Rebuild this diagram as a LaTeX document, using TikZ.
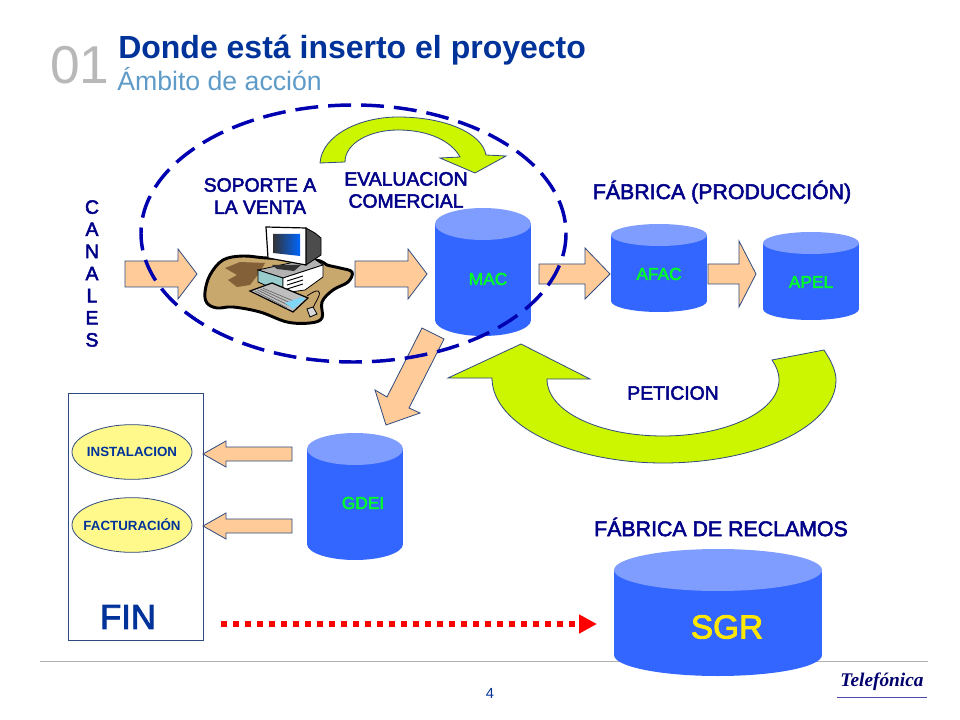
\documentclass[tikz,border=0pt]{standalone}
\usepackage{fontspec}
\setmainfont{Liberation Sans}
\newfontfamily\medfont[FakeBold=2.6]{Liberation Sans}
\newfontfamily\logofont{Liberation Serif}
\usetikzlibrary{shapes.geometric,arrows.meta}
\definecolor{azulfuerte}{HTML}{000088}
\definecolor{azulzona}{HTML}{0000B0}
\definecolor{azultitulo}{HTML}{003399}
\definecolor{azulsub}{HTML}{5F9BC8}
\definecolor{azulcil}{HTML}{3366FF}
\definecolor{azultapa}{HTML}{7F9CFF}
\definecolor{naranja}{HTML}{FFCC99}
\definecolor{verdelima}{HTML}{CCF500}
\definecolor{borde}{HTML}{2F4A7F}
\definecolor{mesa}{HTML}{C9A86E}

\begin{document}
\begin{tikzpicture}
      [x=.75pt,y=-.75pt
    % colors of the faces
      ,cilb/.style={fill=azulcil}
      ,cilt/.style={fill=azultapa}
      ,flecha/.style={draw=borde,fill=naranja,line width=.6pt}
      ,curva/.style={draw=borde,fill=verdelima,line width=.6pt}
      ,rotulo/.style={font=\medfont\fontsize{14.5}{16.6}\selectfont,text=azulfuerte,align=center,inner sep=0pt}
      ,rotgrande/.style={rotulo,font=\medfont\fontsize{16}{18}\selectfont}
      ,nomcil/.style={font=\medfont\fontsize{13}{14}\selectfont,text=green!85!cyan,inner sep=0pt}
      ,proceso/.style={ellipse,draw=borde,fill=yellow!45,line width=.6pt,minimum width=90pt,minimum height=41pt,inner sep=0pt,text=azultitulo,font=\bfseries\fontsize{10}{11}\selectfont}
      ]
    \useasboundingbox (0,0) rectangle (960,720);

    % header
    \node[anchor=base west,inner sep=0pt,text=black!28,font=\fontsize{40}{40}\selectfont] (num) at (50,84) {01};
    \node[anchor=base west,inner sep=0pt,text=azultitulo,font=\bfseries\fontsize{24}{26}\selectfont] (titulo) at (118,59) {Donde está inserto el proyecto};
    \node[anchor=base west,inner sep=0pt,text=azulsub,font=\fontsize{20}{22}\selectfont] (subtitulo) at (117,91) {Ámbito de acción};

    % footer
    \draw[black!30,line width=.6pt] (40,661) -- (928,661);
    \node[text=azultitulo,inner sep=0pt,font=\fontsize{11}{12}\selectfont] (pagina) at (490,693) {4};
    \node[text=azulfuerte!80!black,inner sep=0pt,font=\logofont\bfseries\itshape\fontsize{14.5}{16}\selectfont] (logo) at (882,682) {Telefónica};
    \draw[azulfuerte!70,line width=.7pt] (837,697) -- (927,697);

    % arrows
    \filldraw[flecha] (125,261) -- (178,261) -- (178,249) -- (197,274) -- (178,299) -- (178,287) -- (125,287) -- cycle;
    \filldraw[flecha] (355,261) -- (408,261) -- (408,249) -- (427,274) -- (408,299) -- (408,287) -- (355,287) -- cycle;
    \filldraw[flecha] (539,264) -- (585,264) -- (585,248) -- (610,274) -- (585,299) -- (585,284) -- (539,284) -- cycle;
    \filldraw[flecha] (708,264) -- (739,264) -- (739,241) -- (756,274) -- (739,307) -- (739,284) -- (708,284) -- cycle;
    \filldraw[flecha] (422,328) -- (444,339) -- (409,408) -- (420,413) -- (386,425) -- (375,390) -- (387,397) -- cycle;
    \filldraw[flecha] (292,447) -- (226,447) -- (226,441) -- (203,454) -- (226,467) -- (226,461) -- (292,461) -- cycle;
    \filldraw[flecha] (292,519) -- (226,519) -- (226,513) -- (203,526) -- (226,539) -- (226,533) -- (292,533) -- cycle;

    % cylinders
    \coordinate (A) at (483,224);
    \fill[cilb] (A)++(0,96) ellipse (48 and 16);
    \fill[cilb] (A)++(-48,0) rectangle ++(96,96);
    \fill[cilt] (A) ellipse (48 and 16);
    \coordinate (A) at (659,235);
    \fill[cilb] (A)++(0,66) ellipse (48 and 11);
    \fill[cilb] (A)++(-48,0) rectangle ++(96,66);
    \fill[cilt] (A) ellipse (48 and 11);
    \coordinate (A) at (811,243);
    \fill[cilb] (A)++(0,66) ellipse (48 and 11);
    \fill[cilb] (A)++(-48,0) rectangle ++(96,66);
    \fill[cilt] (A) ellipse (48 and 11);
    \coordinate (A) at (355,449);
    \fill[cilb] (A)++(0,95) ellipse (48 and 16);
    \fill[cilb] (A)++(-48,0) rectangle ++(96,95);
    \fill[cilt] (A) ellipse (48 and 16);
    \coordinate (A) at (718,570);
    \fill[cilb] (A)++(0,85) ellipse (104 and 21);
    \fill[cilb] (A)++(-104,0) rectangle ++(208,85);
    \fill[cilt] (A) ellipse (104 and 21);

    \node[nomcil] (mac) at (488,279) {MAC};
    \node[nomcil] (afac) at (659,274) {AFAC};
    \node[nomcil] (apel) at (811,282) {APEL};
    \node[nomcil] (gdei) at (363,503) {GDEI};
    \node[inner sep=0pt,text=yellow!90!orange,font=\medfont\fontsize{25}{26}\selectfont] (sgr) at (727,627) {SGR};

    % curved arrows
    \filldraw[curva] (320,163) .. controls (322,135) and (360,117) .. (398,117)
       .. controls (445,117) and (482,133) .. (486,155) -- (506,156) -- (475,173) -- (440,158) -- (460,157)
       .. controls (452,142) and (430,130) .. (398,130) .. controls (370,130) and (345,143) .. (345,162) -- cycle;
    \filldraw[curva] (824,350) .. controls (832,362) and (836,372) .. (836,380)
       .. controls (836,425) and (760,463) .. (663,463) .. controls (570,463) and (492,425) .. (492,378)
       -- (448,378) -- (521,344) -- (590,379) -- (547,379)
       .. controls (547,412) and (600,436) .. (663,436) .. controls (725,436) and (779,412) .. (779,380)
       .. controls (779,372) and (776,366) .. (772,360) -- cycle;

    % computer
    \filldraw[mesa,draw=black,line width=2.2pt] plot[smooth cycle,tension=.6] coordinates
       {(205,292) (210,275) (223,260) (243,256) (267,258) (315,260) (327,265) (340,268) (352,272) (348,282)
        (333,290) (322,302) (322,318) (310,323) (287,322) (260,312) (233,307) (217,308) (207,303)};
    \fill[black!55!mesa!60!brown] (225,268) -- (240,262) -- (265,263) -- (260,272) -- (250,285) -- (237,287) -- (228,280) -- (237,275) -- cycle;
    \filldraw[draw=black,fill=black!30,line width=.6pt] (258,270) -- (313,258) -- (323,265) -- (283,278) -- cycle;
    \filldraw[draw=black,fill=teal!40,line width=.6pt] (258,270) -- (283,278) -- (283,293) -- (258,282) -- cycle;
    \filldraw[draw=black,fill=white,line width=.6pt] (283,278) -- (323,265) -- (323,277) -- (305,290) -- (283,293) -- cycle;
    \foreach \i in {0,4,8} \draw[black,line width=.7pt] (287,281+\i) -- (303,276+\i);
    \fill[black!80] (272,265) -- (301,265) -- (294,271) -- (277,269) -- cycle;
    \filldraw[draw=black,fill=black!70,line width=.6pt] (306,228) -- (315,233) -- (321,238) -- (321,255) -- (306,265) -- cycle;
    \filldraw[draw=black,fill=white,line width=.9pt] (266,227) -- (306,228) -- (306,265) -- (268,258) -- cycle;
    \shade[left color=black!80,right color=blue!60!cyan] (273,234) -- (300,234) -- (300,256) -- (273,253) -- cycle;
    \filldraw[draw=black,fill=black!25,line width=.9pt] (250,291) -- (272,283) -- (308,298) -- (293,312) -- cycle;
    \foreach \i in {0,3,6,9} \draw[black!60,line width=.5pt] (255+\i*.9,291-\i*.4+\i*.1) -- (291+\i*.9-4,308-\i*.7);
    \fill[cyan!50] (285,303) -- (302,297) -- (305,299) -- (293,309) -- cycle;
    \draw[black,line width=.6pt] (307,296) .. controls (318,288) and (322,290) .. (318,298) .. controls (316,303) and (314,304) .. (313,308);
    \filldraw[draw=black,fill=black!15,line width=.6pt] (307,309) -- (313,307) -- (317,314) -- (310,317) -- cycle;

    % the zone
    \draw[azulzona,line width=2.6pt,dash pattern=on 17.2pt off 7.5pt] (353.5,233.5) ellipse (212.5 and 128.5);

    % labels
    \node[rotulo] (soporte) at (260,196) {SOPORTE A\\LA VENTA};
    \node[rotulo] (evaluacion) at (406,190) {EVALUACION\\COMERCIAL};
    \node[rotulo] (canales) at (92,273.5) {C\\A\\N\\A\\L\\E\\S};
    \node[rotgrande] (fabprod) at (722,192) {FÁBRICA (PRODUCCIÓN)};
    \node[rotulo] (peticion) at (673,393) {PETICION};
    \node[rotgrande] (fabrecl) at (721,527) {FÁBRICA DE RECLAMOS};

    % end block
    \draw[borde,line width=.7pt] (68,393) rectangle (203,640);
    \node[proceso] (inst) at (132,452) {\makebox[0pt]{INSTALACION}};
    \node[proceso] (fact) at (132,525) {\makebox[0pt]{FACTURACIÓN}};
    \node[inner sep=0pt,text=azultitulo,font=\medfont\fontsize{26}{28}\selectfont] (fin) at (128,617) {FIN};

    % dotted link
    \coordinate (ini) at (221,624);
    \coordinate (fn) at (597,624);
    \draw[red,line width=4.5pt,dash pattern=on 4.5pt off 4.5pt,-{Triangle[length=13.5pt,width=13.5pt]}] (ini) -- (fn);
\end{tikzpicture}
\end{document}
